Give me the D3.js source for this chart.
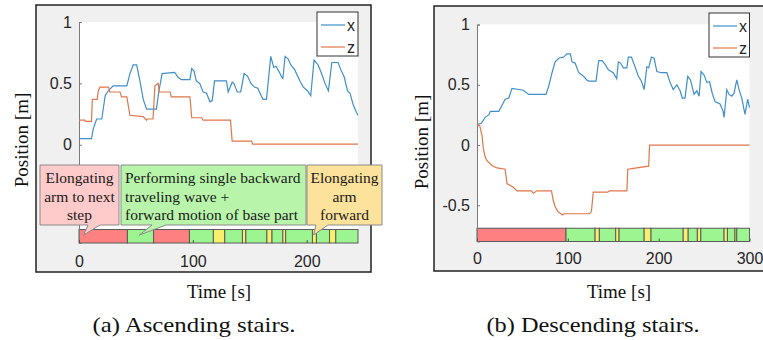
<!DOCTYPE html>
<html>
<head>
<meta charset="utf-8">
<script src="https://cdn.jsdelivr.net/npm/d3@7"></script>
<style>
  body { margin: 0; background: #fff; }
  svg { display: block; }
</style>
</head>
<body>
<svg id="fig" width="763" height="340"></svg>
<script>
// ---- data ----
// (a) ascending stairs
const ascXTime = [0,11,12.5,15.5,20,23,25.7,30,42,44.7,47.6,50.6,53.5,56.4,59.4,68,70,73,84,87,90,97.4,99,101,103,106,109,112,115,117,119,129.5,131,134.5,136,139,142,145,148,151,154,157,160,161.7,164.6,168.4,171,173,176,178,179,181,183.6,186,189.5,194,197,200.6,203.5,206.4,210,213,216,219,222,227.5,230,233,235.7,238,240.6,243.6,245];
const ascX = [0.05,0.05,0.13,0.21,0.21,0.4,0.44,0.48,0.48,0.58,0.65,0.65,0.52,0.37,0.29,0.29,0.43,0.58,0.59,0.55,0.53,0.53,0.62,0.6,0.52,0.5,0.43,0.42,0.35,0.36,0.52,0.52,0.43,0.51,0.5,0.43,0.43,0.58,0.56,0.5,0.47,0.46,0.4,0.37,0.37,0.72,0.63,0.64,0.59,0.55,0.54,0.72,0.7,0.65,0.61,0.52,0.47,0.44,0.4,0.69,0.65,0.58,0.5,0.44,0.67,0.67,0.61,0.55,0.44,0.42,0.33,0.265,0.24];
const ascZTime = [0,5,6,11,11.7,16,17,18.4,26,27,36,37.4,42,44.7,56.4,59.4,60,65,66.7,69.5,70.5,80,81,97.4,99,107.6,109,133,134.5,151.5,152.5,245];
const ascZ = [0.2,0.2,0.19,0.19,0.37,0.37,0.44,0.47,0.47,0.43,0.43,0.39,0.39,0.24,0.23,0.2,0.21,0.21,0.48,0.5,0.43,0.43,0.39,0.39,0.22,0.22,0.2,0.2,0.03,0.03,0.005,0.005];
const ascPhaseEdges = [0,42.5,65.5,97,118,128,143.5,146.5,165,169.5,179,181.5,205,208.5,220,225.5,245];
const ascPhaseKinds = ["R","G","R","G","Y","G","Y","G","Y","G","Y","G","Y","G","Y","G"];

// (b) descending stairs
const descXTime = [0,4.8,9,13,14.7,24,26.8,31,35,38.5,51,57,76,79,82.6,86,90,95.5,99,102.8,104.6,108,112,116,121,123,131,134,137.7,141,144.6,150,153.8,155.6,158,161,165,166.6,170,174,177.7,181,184,187,189,192,195,198,203,209,212.6,216,220,223.6,226,229,232,235,239,242,244.5,246.7,250,253,256,259,262,267.6,271,272,275,277.5,280.5,283,286,288.5,291.5,295,298,300];
const descX = [0.17,0.18,0.23,0.25,0.28,0.28,0.32,0.38,0.39,0.47,0.455,0.42,0.42,0.49,0.6,0.69,0.72,0.73,0.757,0.757,0.69,0.68,0.6,0.58,0.54,0.53,0.53,0.7,0.7,0.67,0.625,0.6,0.55,0.69,0.68,0.64,0.64,0.73,0.73,0.65,0.57,0.53,0.46,0.65,0.64,0.73,0.72,0.61,0.6,0.6,0.52,0.46,0.5,0.45,0.39,0.39,0.57,0.54,0.42,0.45,0.405,0.61,0.58,0.52,0.525,0.43,0.36,0.34,0.28,0.23,0.46,0.42,0.405,0.43,0.54,0.46,0.39,0.255,0.38,0.31];
const descZTime = [0,3,5.5,7,9,11,16.5,22,31,33,40,44,60,62,66,82,84,86,89,94,96,124,126,128,144,146,165,166,176,189,190,300];
const descZ = [0.17,0.16,0.08,-0.03,-0.1,-0.13,-0.17,-0.19,-0.2,-0.32,-0.35,-0.38,-0.38,-0.4,-0.38,-0.38,-0.46,-0.51,-0.55,-0.58,-0.57,-0.57,-0.55,-0.39,-0.39,-0.38,-0.38,-0.2,-0.19,-0.175,0,0];
const descPhaseEdges = [0,98,130,134.7,152.7,156.4,184,191.6,227,232.5,242.6,246.4,272,275.7,284,286,300];
const descPhaseKinds = ["R","G","Y","G","Y","G","Y","G","Y","G","Y","G","Y","G","Y","G"];

const ascXTicks = [0, 100, 200];
const descXTicks = [0, 100, 200, 300];
const ascYTicks = [0, 0.5, 1];
const descYTicks = [-0.5, 0, 0.5, 1];
const seriesNames = ["x", "z"];

// ---- styles ----
const blue = "#3f8fcb";
const orange = "#e0764a";
const phaseFill = { R: "#ff8080", G: "#9df591", Y: "#f8f06c" };
const sans = "'Liberation Sans', Arial, sans-serif";
const serif = "'Liberation Serif', 'Times New Roman', serif";

const svg = d3.select("#fig");

function zip(ts, vs) { return ts.map((t, i) => [t, vs[i]]); }

function drawPanel(cfg) {
  const g = svg.append("g");

  // grey figure background
  g.append("rect")
    .attr("x", cfg.box[0]).attr("y", cfg.box[1])
    .attr("width", cfg.box[2]).attr("height", cfg.box[3])
    .attr("fill", "#f0f0f0").attr("stroke", "#222").attr("stroke-width", 1.5);

  const x = d3.scaleLinear().domain(cfg.xDomain).range(cfg.xRange);
  const y = d3.scaleLinear().domain([-0.8, 1]).range(cfg.yRange);

  // white axes area
  g.append("rect")
    .attr("x", x(cfg.xDomain[0])).attr("y", y(1))
    .attr("width", x(cfg.xDomain[1]) - x(cfg.xDomain[0]))
    .attr("height", y(-0.8) - y(1))
    .attr("fill", "#fff");

  // phase strip
  const phases = cfg.kinds.map((k, i) => ({ k, a: cfg.edges[i], b: cfg.edges[i + 1] }));
  g.selectAll(".ph").data(phases).enter().append("rect")
    .attr("x", d => x(d.a)).attr("width", d => x(d.b) - x(d.a))
    .attr("y", y(-0.69)).attr("height", y(-0.8) - y(-0.69))
    .attr("fill", d => phaseFill[d.k])
    .attr("stroke", "#5a5a5a").attr("stroke-width", 1);

  // y axis
  const ya = g.append("g")
    .attr("transform", `translate(${x(cfg.xDomain[0])},0)`)
    .call(d3.axisLeft(y).tickValues(cfg.yTicks).tickSize(-3).tickPadding(7)
      .tickFormat(d => String(d)));
  ya.select(".domain").attr("stroke", "#7a7a7a");
  ya.selectAll(".tick line").attr("stroke", "#7a7a7a");
  ya.selectAll("text").attr("font-family", sans).attr("font-size", 16).attr("fill", "#262626");

  // x axis (labels only, ticks hidden under the strip)
  const xa = g.append("g")
    .attr("transform", `translate(0,${y(-0.8)})`)
    .call(d3.axisBottom(x).tickValues(cfg.xTicks).tickSize(-3).tickFormat(d3.format("d")));
  xa.select(".domain").remove();
  xa.selectAll(".tick line").attr("stroke", "#555");
  xa.selectAll("text").attr("font-family", sans).attr("font-size", 16).attr("fill", "#262626")
    .attr("dy", null).attr("y", cfg.xLabelOffset);

  // lines
  const line = d3.line().x(d => x(d[0])).y(d => y(d[1]));
  g.append("path").datum(zip(cfg.xT, cfg.xV))
    .attr("d", line).attr("fill", "none").attr("stroke", blue).attr("stroke-width", 1.2);
  g.append("path").datum(zip(cfg.zT, cfg.zV))
    .attr("d", line).attr("fill", "none").attr("stroke", orange).attr("stroke-width", 1.2);

  // legend
  const lg = g.append("g").attr("transform", `translate(${cfg.legend[0]},${cfg.legend[1]})`);
  lg.append("rect").attr("width", cfg.legend[2]).attr("height", 44)
    .attr("fill", "#fff").attr("stroke", "#333").attr("stroke-width", 1);
  [blue, orange].forEach((c, i) => {
    lg.append("line").attr("x1", 4).attr("x2", 28).attr("y1", 13 + i * 22).attr("y2", 13 + i * 22)
      .attr("stroke", c).attr("stroke-width", 1.2);
    lg.append("text").attr("x", 30).attr("y", 19 + i * 22).text(seriesNames[i])
      .attr("font-family", sans).attr("font-size", 16).attr("fill", "#262626");
  });

  // axis titles
  g.append("text")
    .attr("transform", `translate(${cfg.yTitle[0]},${cfg.yTitle[1]}) rotate(-90)`)
    .attr("text-anchor", "middle").attr("font-family", serif).attr("font-size", 19)
    .attr("fill", "#111").text("Position [m]");
  g.append("text").attr("x", cfg.xTitle[0]).attr("y", cfg.xTitle[1])
    .attr("text-anchor", "middle").attr("font-family", serif).attr("font-size", 19)
    .attr("fill", "#111").text("Time [s]");

  // caption
  g.append("text").attr("x", cfg.caption[0]).attr("y", cfg.caption[1])
    .attr("text-anchor", "middle").attr("font-family", serif).attr("font-size", 22)
    .attr("textLength", cfg.caption[2]).attr("lengthAdjust", "spacingAndGlyphs")
    .attr("fill", "#111").text(cfg.caption[3]);

  return { g, x, y };
}

const a = drawPanel({
  box: [36, 5, 335, 267],
  xDomain: [0, 245], xRange: [79, 358], yRange: [243, 22],
  xTicks: ascXTicks, yTicks: ascYTicks, xLabelOffset: 24,
  edges: ascPhaseEdges, kinds: ascPhaseKinds,
  xT: ascXTime, xV: ascX, zT: ascZTime, zV: ascZ,
  legend: [317, 12, 41],
  yTitle: [28, 140], xTitle: [219, 298],
  caption: [194, 332, 203, "(a) Ascending stairs."]
});

drawPanel({
  box: [434, 6, 345, 265],
  xDomain: [0, 300], xRange: [477, 749.5], yRange: [241.5, 24.5],
  xTicks: descXTicks, yTicks: descYTicks, xLabelOffset: 22,
  edges: descPhaseEdges, kinds: descPhaseKinds,
  xT: descXTime, xV: descX, zT: descZTime, zV: descZ,
  legend: [709, 13, 40.5],
  yTitle: [428, 142], xTitle: [619, 298],
  caption: [593, 332, 213, "(b) Descending stairs."]
});

// ---- callouts on panel (a) ----
const callouts = [
  { box: [40, 165, 79, 60], tipT: 4, base: [88, 100], fill: "#ffcaca",
    lines: ["Elongating", "arm to next", "step"], anchor: "middle" },
  { box: [121, 165, 185, 60], tipT: 53, base: [152, 166], fill: "#b8f5aa",
    lines: ["Performing single backward", "traveling wave +", "forward motion of base part"], anchor: "start" },
  { box: [307, 165, 75, 60], tipT: 206, base: [316, 328], fill: "#fde29b",
    lines: ["Elongating", "arm", "forward"], anchor: "middle" }
];
callouts.forEach(c => {
  const [bx, by, bw, bh] = c.box;
  const tx = a.x(c.tipT), ty = a.y(-0.735);
  const p = d3.path();
  p.moveTo(bx, by); p.lineTo(bx + bw, by); p.lineTo(bx + bw, by + bh);
  p.lineTo(c.base[1], by + bh); p.lineTo(tx, ty); p.lineTo(c.base[0], by + bh);
  p.lineTo(bx, by + bh); p.closePath();
  a.g.append("path").attr("d", p.toString())
    .attr("fill", c.fill).attr("stroke", "#8a8a8a").attr("stroke-width", 1);
  const cx = c.anchor === "middle" ? bx + bw / 2 : bx + 4;
  c.lines.forEach((s, i) => {
    a.g.append("text").attr("x", cx).attr("y", 183 + i * 18.5)
      .attr("text-anchor", c.anchor).attr("font-family", serif).attr("font-size", 15.5)
      .attr("fill", "#1a1a1a").text(s);
  });
});
</script>
</body>
</html>
